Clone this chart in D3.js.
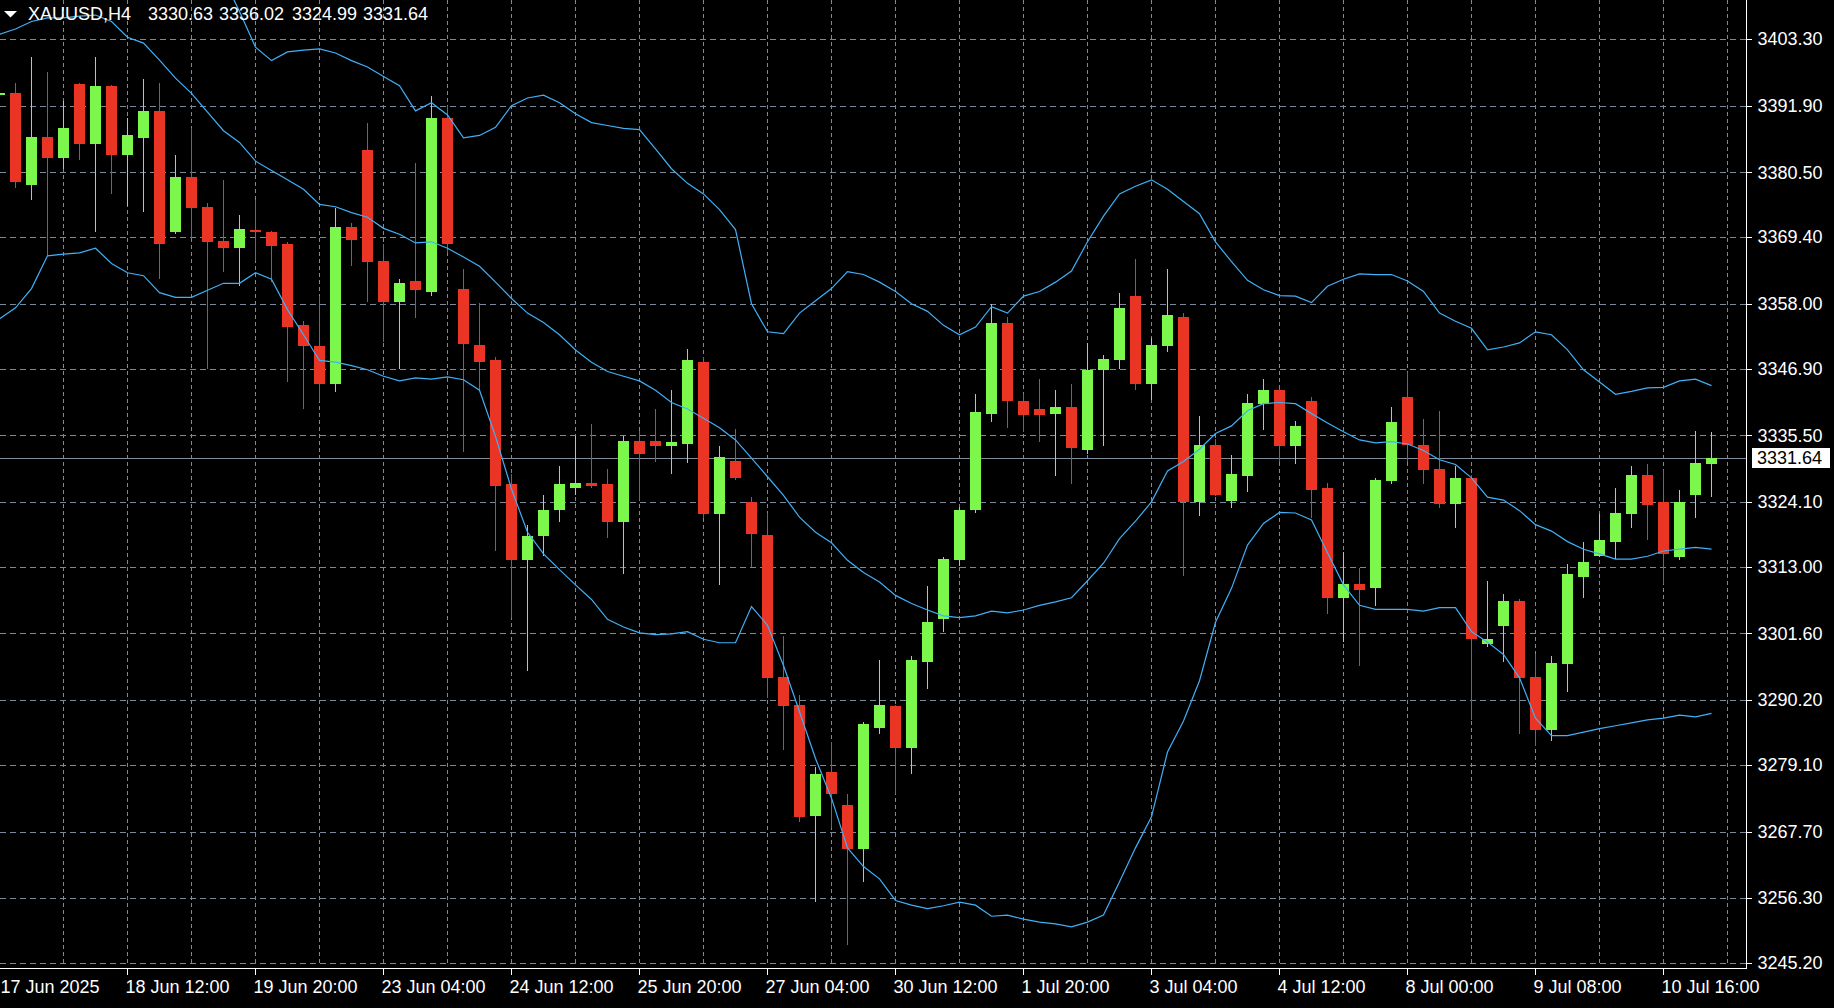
<!DOCTYPE html>
<html><head><meta charset="utf-8">
<script src="https://cdn.jsdelivr.net/npm/d3@7"></script>
<style>
html,body{margin:0;padding:0;background:#000;overflow:hidden}
svg{display:block}
text{font-family:"Liberation Sans",Arial,sans-serif;}
</style></head><body>
<svg id="chart" width="1834" height="1008"></svg>
<script>
// ---------- DATA ----------
const symbolTitle = "XAUUSD,H4";
const titleValues = ["3330.63", "3336.02", "3324.99", "3331.64"];
const currentPrice = 3331.64;
const firstBarIndex = -1; // first (partly hidden) bar: 17 Jun 2025 04:00

const priceTicks = [3403.30, 3391.90, 3380.50, 3369.40, 3358.00, 3346.90, 3335.50, 3324.10,
  3313.00, 3301.60, 3290.20, 3279.10, 3267.70, 3256.30, 3245.20];

const timeLabels = ["17 Jun 2025", "18 Jun 12:00", "19 Jun 20:00", "23 Jun 04:00", "24 Jun 12:00",
  "25 Jun 20:00", "27 Jun 04:00", "30 Jun 12:00", "1 Jul 20:00", "3 Jul 04:00", "4 Jul 12:00",
  "8 Jul 00:00", "9 Jul 08:00", "10 Jul 16:00"];
const timeLabelBars = [-1, 7, 15, 23, 31, 39, 47, 55, 63, 71, 79, 87, 95, 103];

const opens = [3393.8,3394.0,3378.4,3386.6,3382.9,3395.6,3385.3,3395.2,3383.5,3386.4,3391.0,3370.2,3379.7,3374.6,3368.8,3367.5,
  3370.7,3370.2,3368.3,3354.4,3350.7,3344.3,3371.2,3384.3,3365.4,3358.3,3361.9,3360.0,3389.7,3360.6,3351.0,
  3348.3,3327.1,3314.2,3318.2,3322.7,3326.4,3327.4,3327.1,3320.7,3334.6,3334.6,3333.7,3334.0,3348.0,3322.0,3331.1,
  3324.0,3318.5,3294.2,3289.4,3270.4,3277.8,3272.3,3264.7,3285.4,3289.1,3282.0,3296.7,3304.0,3314.2,3322.7,
  3339.2,3354.7,3341.4,3340.0,3339.2,3340.4,3332.9,3346.7,3348.4,3359.3,3344.3,3350.8,3355.8,3324.1,3333.9,3324.3,
  3328.6,3340.8,3343.2,3333.7,3341.4,3326.4,3307.6,3310.1,3309.4,3327.6,3342.1,3333.9,3329.8,3323.7,3328.1,
  3299.8,3302.8,3307.2,3294.2,3285.0,3296.3,3311.3,3314.9,3317.2,3322.0,3328.7,3324.0,3314.7,3325.3,3330.63];
const highs = [3395.5,3395.8,3400.2,3397.6,3392.7,3395.8,3400.2,3395.5,3389.8,3396.5,3395.8,3383.5,3388.0,3375.3,3379.1,3373.2,
  3375.7,3370.5,3368.5,3355.1,3359.3,3374.4,3371.9,3389.0,3368.3,3362.2,3382.1,3393.5,3391.8,3364.0,3358.2,
  3348.9,3328.9,3320.1,3325.2,3330.2,3335.3,3337.4,3329.8,3335.3,3336.3,3340.0,3343.2,3350.3,3348.9,3333.6,3336.6,
  3325.0,3322.2,3301.1,3291.1,3278.7,3283.0,3274.1,3286.4,3297.0,3289.3,3297.7,3309.7,3314.7,3323.3,3342.5,
  3358.0,3355.7,3342.6,3345.2,3343.2,3344.2,3351.3,3349.3,3359.9,3365.7,3352.1,3364.0,3356.5,3338.8,3334.8,3332.2,
  3342.5,3345.2,3343.4,3338.0,3342.1,3327.4,3315.6,3312.8,3328.1,3340.4,3346.3,3338.3,3339.7,3330.3,3328.7,
  3310.6,3308.3,3307.5,3298.0,3297.7,3313.4,3317.2,3322.0,3326.4,3330.2,3330.5,3329.6,3326.1,3336.3,3336.02];
const lows = [3391.0,3377.8,3375.7,3366.2,3381.1,3382.6,3370.2,3376.7,3374.8,3373.7,3362.3,3370.0,3369.3,3346.8,3363.4,3361.1,
  3365.4,3361.7,3344.6,3340.0,3341.4,3342.9,3364.4,3358.3,3351.5,3346.8,3355.6,3359.4,3366.7,3332.6,3343.2,
  3315.7,3304.3,3295.1,3314.9,3320.7,3325.3,3326.4,3317.9,3311.7,3324.4,3330.9,3328.9,3330.7,3321.4,3309.8,3327.8,
  3312.9,3290.6,3281.7,3269.3,3255.7,3268.3,3248.3,3259.1,3284.4,3274.2,3277.6,3292.0,3301.8,3313.2,3322.2,
  3337.7,3336.7,3336.1,3334.4,3328.5,3327.2,3332.3,3333.7,3346.8,3343.2,3341.5,3349.8,3311.5,3321.7,3325.1,3323.1,
  3325.8,3336.4,3330.9,3330.6,3321.4,3304.9,3300.1,3296.0,3306.3,3327.2,3330.9,3327.2,3323.1,3319.6,3286.7,
  3299.2,3296.7,3284.3,3282.4,3283.1,3291.6,3307.6,3314.7,3314.3,3319.6,3317.5,3310.1,3314.1,3321.4,3324.99];
const closes = [3394.0,3378.9,3386.6,3382.9,3388.0,3385.3,3395.2,3383.5,3386.9,3391.0,3368.3,3379.7,3374.4,3368.6,3367.5,3370.8,
  3370.6,3367.9,3354.1,3350.8,3344.3,3371.2,3368.9,3365.1,3358.3,3361.6,3360.3,3389.7,3368.3,3351.1,3348.1,
  3326.8,3314.2,3318.2,3322.7,3327.1,3327.4,3326.8,3320.7,3334.6,3332.3,3333.7,3334.4,3348.3,3322.0,3331.7,3328.2,
  3318.6,3294.0,3289.2,3270.1,3277.5,3274.2,3264.7,3286.1,3289.4,3282.0,3297.0,3303.5,3314.4,3322.7,3339.4,
  3354.7,3341.4,3338.9,3338.9,3340.4,3333.4,3346.6,3348.6,3357.2,3344.3,3351.0,3356.1,3324.1,3333.9,3325.3,3328.8,
  3341.1,3343.2,3333.7,3337.0,3326.2,3307.6,3310.1,3309.0,3327.8,3337.7,3333.9,3329.6,3323.7,3328.1,3300.6,
  3300.6,3307.2,3294.0,3285.0,3296.6,3311.7,3313.8,3317.5,3322.2,3328.7,3323.6,3315.2,3324.0,3330.8,3331.64];

// Bollinger Bands (one value per bar)
const bbUpper = [3452.8,3452.7,3452.0,3447.7,3447.3,3447.7,3447.3,3447.7,3443.9,3442.4,3439.5,3434.1,3428.9,3421.3,3413.7,
  3408.0,3401.9,3399.6,3401.1,3401.4,3401.6,3400.9,3399.6,3398.5,3396.9,3395.3,3391.0,3392.4,3390.3,3386.4,3386.8,
  3388.2,3391.9,3393.2,3393.7,3392.4,3390.5,3389.0,3388.5,3388.0,3387.8,3384.5,3381.1,3378.6,3376.8,3374.1,3370.7,
  3358.0,3353.2,3352.9,3356.4,3358.5,3360.6,3363.5,3363.0,3361.7,3360.1,3358.0,3356.7,3354.3,3352.7,3354.0,
  3357.5,3356.4,3359.3,3360.1,3361.7,3363.6,3368.6,3373.0,3376.8,3378.1,3379.2,3377.6,3375.5,3373.4,3368.6,3365.2,
  3362.0,3360.4,3359.4,3359.3,3358.2,3361.0,3362.2,3363.1,3363.0,3363.0,3361.9,3360.1,3356.4,3355.0,3353.8,
  3350.1,3350.6,3351.3,3353.2,3352.7,3350.1,3346.7,3344.6,3342.5,3343.0,3343.6,3343.7,3344.8,3345.1,3344.0];
const bbMiddle = [3404.1,3405.0,3406.3,3406.9,3406.9,3407.2,3407.4,3406.3,3403.6,3402.6,3399.7,3396.6,3394.0,3390.8,3387.6,3385.6,
  3382.4,3380.8,3379.2,3377.6,3375.0,3374.6,3373.6,3372.8,3370.9,3369.9,3368.4,3368.6,3367.5,3366.0,3364.4,
  3361.7,3358.9,3356.4,3354.8,3352.7,3350.1,3348.0,3346.4,3345.6,3344.8,3343.2,3341.1,3340.0,3338.4,3336.8,3334.7,
  3331.6,3328.4,3325.2,3321.5,3318.9,3317.1,3314.1,3312.0,3310.4,3308.1,3306.7,3305.6,3304.6,3304.3,3304.6,
  3305.4,3305.1,3305.6,3306.4,3307.0,3307.7,3310.6,3313.6,3317.8,3320.8,3324.1,3329.4,3331.0,3333.1,3335.8,3337.1,
  3339.7,3340.9,3341.1,3340.9,3339.2,3337.6,3336.1,3334.7,3334.2,3334.4,3334.0,3332.9,3331.3,3330.5,3328.2,
  3324.9,3324.4,3322.6,3320.2,3319.1,3317.3,3316.0,3315.2,3314.3,3314.3,3314.8,3315.7,3316.0,3316.3,3316.0];
const bbLower = [3355.4,3357.3,3360.6,3366.2,3366.5,3366.7,3367.5,3364.9,3363.3,3362.8,3359.9,3359.1,3359.1,3360.3,3361.5,3361.5,
  3363.3,3362.2,3357.0,3352.7,3348.3,3348.0,3347.4,3346.7,3345.6,3344.8,3345.3,3345.1,3345.5,3345.0,3343.2,
  3335.3,3326.3,3318.9,3315.2,3312.5,3309.9,3307.4,3304.0,3302.7,3301.7,3301.4,3301.5,3301.9,3300.6,3300.0,3300.0,
  3306.2,3303.0,3296.1,3288.2,3280.2,3273.4,3264.9,3261.7,3259.6,3255.9,3255.1,3254.5,3255.0,3255.6,3255.1,
  3253.2,3253.4,3252.7,3252.2,3251.9,3251.4,3252.2,3253.4,3259.1,3264.9,3270.2,3281.3,3286.6,3293.5,3303.5,3309.3,
  3316.7,3320.4,3322.3,3322.2,3321.0,3315.4,3309.9,3306.4,3305.7,3305.7,3305.7,3305.4,3306.0,3306.0,3301.9,
  3300.1,3298.0,3294.0,3287.1,3284.1,3284.1,3284.7,3285.3,3285.8,3286.3,3286.8,3287.1,3287.6,3287.3,3287.9];

// ---------- LAYOUT ----------
const W = 1834, H = 1008;
const plotRight = 1746, plotBottom = 968;
const colors = { bg: "#000000", grid: "#7b8a9a", axis: "#ffffff", text: "#ffffff",
  bull: "#7cf84c", bear: "#ea3524", band: "#40b0f8", priceLine: "#7e8b98" };

const bars = opens.map((o, i) => ({ idx: firstBarIndex + i, o, h: highs[i], l: lows[i], c: closes[i] }));

const x = d3.scaleLinear().domain([-1, 107]).range([-1, 1727]);
const y = d3.scaleLinear().domain([3245.2, 3403.3]).range([963, 39]);

const svg = d3.select("#chart");
svg.append("rect").attr("width", W).attr("height", H).attr("fill", colors.bg);

svg.append("defs").append("clipPath").attr("id", "plotClip")
  .append("rect").attr("x", 0).attr("y", 0).attr("width", plotRight).attr("height", plotBottom);

const plot = svg.append("g").attr("clip-path", "url(#plotClip)");

// grid
const gridIdx = d3.range(3, 108, 4);
plot.append("g").selectAll("line").data(gridIdx).join("line")
  .attr("x1", d => Math.round(x(d)) + 0.5).attr("x2", d => Math.round(x(d)) + 0.5)
  .attr("y1", 0).attr("y2", 964)
  .attr("stroke", colors.grid).attr("stroke-width", 1).attr("stroke-dasharray", "4,3")
  .attr("shape-rendering", "crispEdges");
plot.append("g").selectAll("line").data(priceTicks).join("line")
  .attr("x1", 0).attr("x2", plotRight)
  .attr("y1", d => Math.round(y(d)) + 0.5).attr("y2", d => Math.round(y(d)) + 0.5)
  .attr("stroke", colors.grid).attr("stroke-width", 1).attr("stroke-dasharray", "6,4")
  .attr("shape-rendering", "crispEdges");

// current price line
plot.append("line")
  .attr("x1", 0).attr("x2", plotRight)
  .attr("y1", Math.round(y(currentPrice)) + 0.5).attr("y2", Math.round(y(currentPrice)) + 0.5)
  .attr("stroke", colors.priceLine).attr("stroke-width", 1).attr("shape-rendering", "crispEdges");

// candles
const cg = plot.append("g").attr("shape-rendering", "crispEdges");
const candle = cg.selectAll("g").data(bars).join("g");
candle.append("rect")
  .attr("x", d => Math.round(x(d.idx)))
  .attr("y", d => y(d.h))
  .attr("width", 1)
  .attr("height", d => Math.max(1, y(d.l) - y(d.h)))
  .attr("fill", d => d.c >= d.o ? colors.bull : colors.bear);
candle.append("rect")
  .attr("x", d => Math.round(x(d.idx)) - 5)
  .attr("y", d => y(Math.max(d.o, d.c)))
  .attr("width", 11)
  .attr("height", d => Math.max(2, Math.abs(y(d.o) - y(d.c))))
  .attr("fill", d => d.c >= d.o ? colors.bull : colors.bear);

// Bollinger bands
const line = d3.line().x((d, i) => Math.round(x(firstBarIndex + i)) + 0.5).y(d => y(d));
[bbUpper, bbMiddle, bbLower].forEach(s => {
  plot.append("path").datum(s).attr("d", line)
    .attr("fill", "none").attr("stroke", colors.band).attr("stroke-width", 1.2);
});

// axes
const yAxis = d3.axisRight(y).tickValues(priceTicks).tickFormat(d3.format(".2f")).tickSize(5).tickPadding(6);
const gy = svg.append("g").attr("transform", `translate(${plotRight + 0.5},0)`).call(yAxis);
gy.select(".domain").remove();
gy.selectAll(".tick line").attr("stroke", colors.axis).attr("shape-rendering", "crispEdges");
gy.selectAll(".tick text").attr("fill", colors.text).attr("font-size", 18)
  .attr("font-family", "'Liberation Sans', Arial, sans-serif");

const xAxis = d3.axisBottom(x).tickValues(timeLabelBars).tickFormat((d, i) => timeLabels[i]).tickSize(6).tickPadding(6);
const gx = svg.append("g").attr("transform", `translate(0,${plotBottom + 0.5})`).call(xAxis);
gx.select(".domain").remove();
gx.selectAll(".tick line").attr("stroke", colors.axis).attr("shape-rendering", "crispEdges");
gx.selectAll(".tick text").attr("fill", colors.text).attr("font-size", 18)
  .attr("text-anchor", "start").attr("dx", (d, i) => i === 0 ? 1 : -2)
  .attr("font-family", "'Liberation Sans', Arial, sans-serif");

// axis frame lines
svg.append("line").attr("x1", plotRight + 0.5).attr("x2", plotRight + 0.5).attr("y1", 0).attr("y2", plotBottom + 1)
  .attr("stroke", colors.axis).attr("shape-rendering", "crispEdges");
svg.append("line").attr("x1", 0).attr("x2", plotRight + 1).attr("y1", plotBottom + 0.5).attr("y2", plotBottom + 0.5)
  .attr("stroke", colors.axis).attr("shape-rendering", "crispEdges");

// current price tag
const py = y(currentPrice);
svg.append("rect").attr("x", 1752).attr("y", Math.round(py) - 10).attr("width", 78).attr("height", 20)
  .attr("fill", "#ffffff");
svg.append("text").attr("x", 1757).attr("y", py).attr("dy", "0.32em")
  .attr("fill", "#000").attr("font-size", 18).text(d3.format(".2f")(currentPrice));

// title
svg.append("path").attr("d", "M4,11 L17,11 L10.5,17.5 Z").attr("fill", "#ffffff");
svg.append("text").attr("x", 28).attr("y", 20).attr("fill", colors.text).attr("font-size", 18).text(symbolTitle);
const titleX = [148, 219, 292, 363];
svg.append("g").selectAll("text").data(titleValues).join("text")
  .attr("x", (d, i) => titleX[i]).attr("y", 20).attr("fill", colors.text).attr("font-size", 18).text(d => d);
</script>
</body></html>
